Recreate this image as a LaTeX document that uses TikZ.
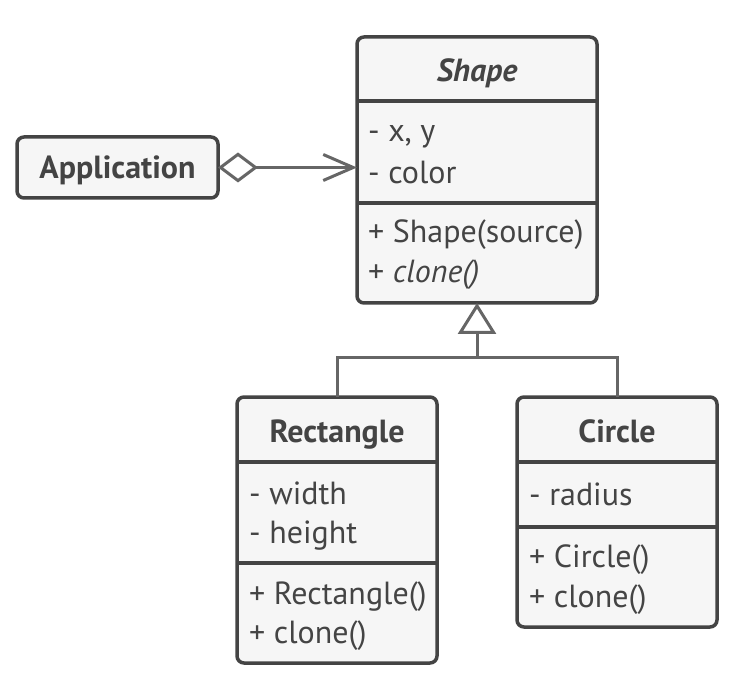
\documentclass[tikz,border=0pt]{standalone}
\usepackage{fontspec}
\setmainfont{PT Sans}
\usetikzlibrary{arrows.meta}
\definecolor{ink}{HTML}{444444}
\definecolor{conn}{HTML}{666666}
\definecolor{boxfill}{HTML}{F6F6F6}
\tikzset{
  umlbox/.style={draw=ink, fill=boxfill, line width=3.5pt, rounded corners=7pt, inner sep=0pt, outer sep=0pt},
  divider/.style={draw=ink, line width=3.5pt},
  txt/.style={anchor=base west, inner sep=0pt, text=ink, font=\fontsize{32}{38}\selectfont},
  hdr/.style={anchor=base, inner sep=0pt, text=ink, font=\fontsize{32}{38}\selectfont\bfseries},
  connector/.style={draw=conn, line width=3pt},
}
\begin{document}
\begin{tikzpicture}[x=1pt,y=-1pt]
\useasboundingbox (0,0) rectangle (752,692);
% Application
\node[umlbox, minimum width=201, minimum height=61] (app) at (117.5,167.5) {};
\node[hdr] (apptxt) at (117.5,179) {Application};
% Shape
\node[umlbox, minimum width=240, minimum height=266] (shape) at (477,170) {};
\draw[divider] (357,101) -- (597,101);
\draw[divider] (357,203) -- (597,203);
\node[hdr] (shapetxt) at (477,82) {\itshape Shape};
\node[txt] (sa1) at (368,142) {- x, y};
\node[txt] (sa2) at (368,184) {- color};
\node[txt] (sm1) at (368,243) {+ Shape(source)};
\node[txt] (sm2) at (368,283) {+ \itshape clone()};
% Rectangle
\node[umlbox, minimum width=200, minimum height=266] (rect) at (337,530) {};
\draw[divider] (237,462) -- (437,462);
\draw[divider] (237,563) -- (437,563);
\node[hdr] (recttxt) at (337,442) {Rectangle};
\node[txt] (ra1) at (249,504) {- width};
\node[txt] (ra2) at (249,543) {- height};
\node[txt] (rm1) at (249,604) {+ Rectangle()};
\node[txt] (rm2) at (249,643) {+ clone()};
% Circle
\node[umlbox, minimum width=200, minimum height=230] (circ) at (617,512) {};
\draw[divider] (517,462) -- (717,462);
\draw[divider] (517,527) -- (717,527);
\node[hdr] (circtxt) at (617,442) {Circle};
\node[txt] (ca1) at (529,505) {- radius};
\node[txt] (cm1) at (529,567) {+ Circle()};
\node[txt] (cm2) at (529,607) {+ clone()};
% connectors
\draw[connector, {Diamond[open,length=40,width=30]}-{Straight Barb[length=30,width=26]}] (app.east) -- (app.east -| shape.west);
\coordinate (j) at (477,358);
\draw[connector] (rect.north) |- (j) -| (circ.north);
\draw[connector, -{Triangle[open,length=31,width=38]}] (j) -- (shape.south);
\end{tikzpicture}
\end{document}
